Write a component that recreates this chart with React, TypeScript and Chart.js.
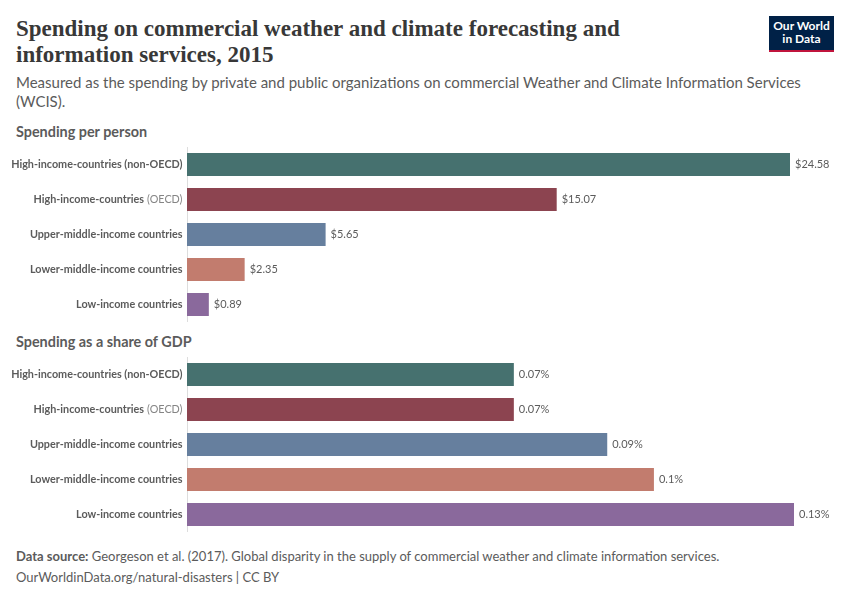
import { useEffect, useRef } from "react"
import { Chart, registerables } from "chart.js"

Chart.register(...registerables)

const categories = [
  "High-income-countries (non-OECD)",
  "High-income-countries (OECD)",
  "Upper-middle-income countries",
  "Lower-middle-income countries",
  "Low-income countries",
]
const spendingPerPerson = [24.58, 15.07, 5.65, 2.35, 0.89]
const spendingGdpShare = [0.07, 0.07, 0.09, 0.1, 0.13]

const barColors = ["#46716f", "#8c4450", "#667f9e", "#c27c6e", "#8a699c"]
const font = "Lato, sans-serif"

// labels beside the bars: category on the left (with a lighter "(OECD)"), value on the right
const barLabels = {
  id: "barLabels",
  afterDatasetsDraw(chart: Chart, _args: unknown, opts: { format: (v: number) => string }) {
    const { ctx, chartArea, scales } = chart
    const values = chart.data.datasets[0].data as number[]
    ctx.save()
    ctx.textBaseline = "middle"
    categories.forEach((name, i) => {
      const y = scales.y.getPixelForValue(i)
      const labelX = chartArea.left - 4.5
      ctx.textAlign = "right"
      ctx.font = `700 10.8px ${font}`
      ctx.fillStyle = "#5b5b5b"
      if (name.endsWith("(OECD)")) {
        const head = name.replace("(OECD)", "")
        ctx.font = `400 10.8px ${font}`
        ctx.fillStyle = "#858585"
        ctx.fillText("(OECD)", labelX, y + 0.5)
        const tail = ctx.measureText("(OECD)").width
        ctx.font = `700 10.8px ${font}`
        ctx.fillStyle = "#5b5b5b"
        ctx.fillText(head.trimEnd(), labelX - tail - 3, y + 0.5)
      } else {
        ctx.fillText(name, labelX, y + 0.5)
      }
      ctx.textAlign = "left"
      ctx.font = `400 11px ${font}`
      ctx.fillStyle = "#5b5b5b"
      ctx.fillText(opts.format(values[i]), scales.x.getPixelForValue(values[i]) + 5, y)
    })
    ctx.restore()
  },
}

function BarPanel({ values, max, right, top, format }: {
  values: number[]
  max: number
  right: number
  top: number
  format: (v: number) => string
}) {
  const canvasRef = useRef<HTMLCanvasElement>(null)

  useEffect(() => {
    if (!canvasRef.current) return
    const chart = new Chart(canvasRef.current, {
      type: "bar",
      data: {
        labels: categories,
        datasets: [{
          data: values,
          backgroundColor: barColors,
          barPercentage: 23 / 35,
          categoryPercentage: 1,
        }],
      },
      plugins: [barLabels],
      options: {
        indexAxis: "y",
        responsive: false,
        animation: false,
        layout: { padding: { left: 187, right, top: 0, bottom: 0 } },
        scales: {
          x: { display: false, min: 0, max },
          y: {
            ticks: { display: false },
            grid: { display: false },
            border: { color: "#dddddd", width: 1 },
            afterFit: (scale) => { scale.width = 0 },
          },
        },
        plugins: {
          legend: { display: false },
          tooltip: { enabled: false },
          barLabels: { format },
        } as never,
      },
    })
    return () => chart.destroy()
  }, [values, max, right, format])

  return (
    <canvas
      ref={canvasRef}
      width={850}
      height={175}
      style={{ position: "absolute", left: 0, top, width: 850, height: 175 }}
    />
  )
}

const textAt = (left: number, top: number, size: number, color: string, weight = 400) => ({
  position: "absolute" as const,
  left,
  top,
  fontFamily: font,
  fontSize: size,
  color,
  fontWeight: weight,
  lineHeight: 1.2,
  whiteSpace: "nowrap" as const,
})

export default function App() {
  return (
    <div style={{ position: "fixed", left: 0, top: 0, width: 850, height: 600, background: "#fff", overflow: "hidden" }}>
      <div style={{
        ...textAt(16, 16, 23, "#383838", 600),
        fontFamily: "'Liberation Serif', serif",
        fontWeight: 700,
        lineHeight: "26px",
      }}>
        Spending on commercial weather and climate forecasting and
        <br />
        information services, 2015
      </div>
      <div style={{ ...textAt(16, 73, 15, "#5b5b5b"), lineHeight: "18.5px" }}>
        Measured as the spending by private and public organizations on commercial Weather and Climate Information Services
        <br />
        (WCIS).
      </div>

      <div style={{
        position: "absolute", left: 769, top: 16, width: 65, height: 36, background: "#002147",
        borderBottom: "2.5px solid #c0143c", boxSizing: "border-box", color: "#fff", textAlign: "center",
        fontFamily: font, fontWeight: 700, fontSize: 12, lineHeight: "12.5px", paddingTop: 4,
      }}>
        Our World
        <br />
        in Data
      </div>

      <div style={textAt(16, 123, 14.4, "#5b5b5b", 700)}>Spending per person</div>
      <BarPanel values={spendingPerPerson} max={24.58} right={60} top={147} format={(v) => `$${v.toFixed(2)}`} />

      <div style={textAt(16, 333, 14.4, "#5b5b5b", 700)}>Spending as a share of GDP</div>
      <BarPanel values={spendingGdpShare} max={0.13} right={56} top={357} format={(v) => `${v}%`} />

      <div style={{ ...textAt(16, 546, 13, "#5b5b5b"), lineHeight: "20.5px" }}>
        <b>Data source:</b> Georgeson et al. (2017). Global disparity in the supply of commercial weather and climate information services.
        <br />
        OurWorldinData.org/natural-disasters | CC BY
      </div>
    </div>
  )
}
